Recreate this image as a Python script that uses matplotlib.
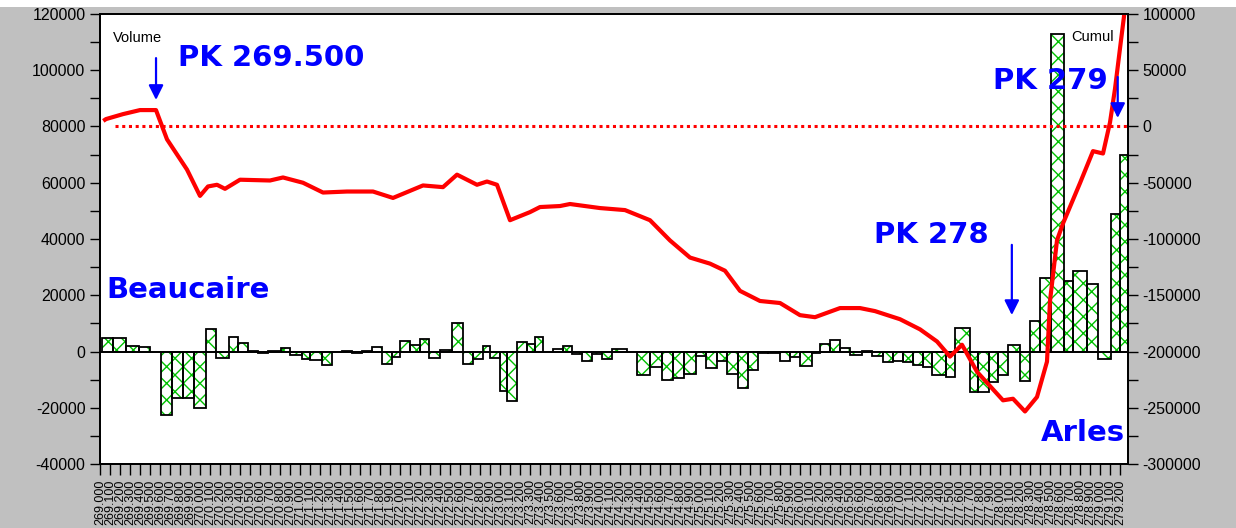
import numpy as np
import matplotlib.pyplot as plt
from matplotlib.patches import Rectangle
from matplotlib.ticker import MultipleLocator

# bar edges along the river (PK, km) and volume per section
pk_edges = [269.02, 269.13, 269.26, 269.39, 269.50, 269.61, 269.72, 269.83, 269.94, 270.06,
            270.16, 270.29, 270.38, 270.48, 270.58, 270.68, 270.81, 270.90, 271.02, 271.10,
            271.22, 271.32, 271.42, 271.52, 271.62, 271.72, 271.82, 271.92, 272.00, 272.10,
            272.20, 272.29, 272.40, 272.52, 272.63, 272.73, 272.83, 272.90, 273.00, 273.07,
            273.17, 273.27, 273.35, 273.43, 273.53, 273.63, 273.72, 273.82, 273.92, 274.02,
            274.12, 274.27, 274.37, 274.50, 274.62, 274.73, 274.84, 274.96, 275.06, 275.17,
            275.27, 275.38, 275.48, 275.58, 275.68, 275.80, 275.90, 276.00, 276.12, 276.20,
            276.30, 276.40, 276.50, 276.62, 276.72, 276.83, 276.93, 277.03, 277.13, 277.23,
            277.32, 277.46, 277.55, 277.70, 277.78, 277.89, 277.98, 278.08, 278.20, 278.30,
            278.40, 278.51, 278.64, 278.73, 278.87, 278.98, 279.11, 279.20, 279.28]
volume = [4800, 4800, 2000, 1500, -300, -22500, -16500, -16500, -20000, 8000,
          -2200, 5000, 3000, 300, -700, 200, 1200, -1200, -2700, -3000,
          -4700, -300, 100, -700, 300, 1600, -4300, -1800, 3800, 2200,
          4500, -2200, 600, 10000, -4300, -2700, 1800, -2200, -14000, -17500,
          3500, 2500, 5000, -300, 1000, 1800, -800, -3200, -1000, -2700,
          1000, -300, -8500, -5500, -10000, -9500, -8000, -1500, -6000, -3500,
          -8000, -13000, -6500, -600, -600, -3500, -2000, -5000, -500, 2800,
          4200, 1200, -1200, 100, -1500, -3800, -3200, -3800, -4800, -5500,
          -8500, -9200, 8500, -14500, -14500, -11000, -8500, 2200, -10500, 11000,
          26000, 113000, 25000, 28500, 24000, -2800, 49000, 70000]

# cumulated volume (right axis)
pk_cumul = [269.05, 269.06, 269.23, 269.40, 269.56, 269.67, 269.87, 270.00, 270.08, 270.17,
            270.25, 270.40, 270.70, 270.83, 271.03, 271.23, 271.47, 271.73, 271.93, 272.23,
            272.43, 272.57, 272.77, 272.87, 272.97, 273.10, 273.30, 273.40, 273.60, 273.70,
            274.00, 274.25, 274.50, 274.70, 274.90, 275.10, 275.25, 275.40, 275.60, 275.80,
            276.00, 276.15, 276.40, 276.60, 276.75, 277.00, 277.20, 277.37, 277.50, 277.62,
            277.77, 278.03, 278.13, 278.25, 278.37, 278.47, 278.50, 278.57, 278.63, 278.80,
            278.93, 279.03, 279.10, 279.15, 279.20, 279.24]
cumul = [6000, 6600, 11000, 14600, 14600, -11400, -38300, -61700, -53300, -51800,
         -55400, -47300, -48000, -45300, -50000, -58700, -57800, -57800, -63500, -52400,
         -53900, -42800, -51800, -48900, -51800, -83300, -76100, -71600, -70700, -68900,
         -72500, -74300, -83300, -101300, -116500, -121900, -128200, -146100, -155100, -156900,
         -167700, -169500, -161400, -161400, -164100, -171300, -180300, -191100, -204500, -194000,
         -218000, -243400, -242000, -253300, -240400, -209000, -155100, -101200, -86200, -50300,
         -21900, -24000, 3600, 33500, 69400, 97900]

pk_ticks = np.round(np.arange(269.0, 279.25, 0.1), 1)

plt.rcParams['hatch.linewidth'] = 1.0
plt.rcParams['axes.unicode_minus'] = False
grey = '#c0c0c0'
fig = plt.figure(figsize=(12.36, 5.28), dpi=100, facecolor=grey)
fig.patches.append(Rectangle((0, 1 - 7 / 528), 1, 7 / 528, transform=fig.transFigure,
                             facecolor='white', edgecolor='none'))
ax = fig.add_axes([100 / 1236, 1 - 464 / 528, 1028 / 1236, 450 / 528])
ax.set_facecolor('white')

left = np.array(pk_edges[:-1])
widths = np.diff(pk_edges)
ax.bar(left, volume, width=widths, align='edge', color='white', edgecolor='#00c000',
       hatch='xx', linewidth=0)
ax.bar(left, volume, width=widths, align='edge', fill=False, edgecolor='black', linewidth=1.3)
ax.axhline(0, color='black', lw=1.3)

ax.set_xlim(269.0, pk_edges[-1])
ax.set_ylim(-40000, 120000)
ax.yaxis.set_major_locator(MultipleLocator(20000))
ax.yaxis.set_minor_locator(MultipleLocator(10000))
ax.set_xticks(pk_ticks)
ax.set_xticklabels([f"{v:.3f}" for v in pk_ticks], rotation=90, fontsize=9,
                   family='Liberation Sans')
ax.tick_params(axis='x', length=8, width=1, pad=3)
ax.tick_params(axis='y', which='both', length=7, width=1, labelsize=11.5)
for lab in ax.get_yticklabels():
    lab.set_family('Liberation Sans')

ax2 = ax.twinx()
ax2.plot([pk_edges[1] + 0.02, pk_edges[-1]], [0, 0], color='#ff0000', lw=2.2,
         linestyle=(0, (1, 1.2)))
ax2.plot(pk_cumul, cumul, color='#ff0000', lw=3, solid_joinstyle='round')
ax2.set_ylim(-300000, 100000)
ax2.yaxis.set_major_locator(MultipleLocator(50000))
ax2.yaxis.set_minor_locator(MultipleLocator(25000))
ax2.tick_params(axis='y', which='both', length=7, width=1, labelsize=11.5)
for lab in ax2.get_yticklabels():
    lab.set_family('Liberation Sans')
for a in (ax, ax2):
    for s in a.spines.values():
        s.set_linewidth(1.3)

blue = '#0000ff'
tr = ax2.transAxes
big = dict(color=blue, fontsize=21, fontweight='bold', family='DejaVu Sans', transform=tr, va='center')
ax2.text(0.0759, 0.902, 'PK 269.500', ha='left', **big)
ax2.text(0.0058, 0.387, 'Beaucaire', ha='left', **big)
ax2.text(0.753, 0.509, 'PK 278', ha='left', **big)
ax2.text(0.869, 0.851, 'PK 279', ha='left', **big)
ax2.text(0.997, 0.069, 'Arles', ha='right', **big)
ax2.text(0.0126, 0.947, 'Volume', fontsize=10.5, family='Liberation Sans', transform=tr, va='center')
ax2.text(0.9446, 0.949, 'Cumul', fontsize=10.5, family='Liberation Sans', transform=tr, va='center')

arrow = dict(arrowstyle='-|>', color=blue, lw=1.6, mutation_scale=22, shrinkA=0, shrinkB=0)
ax2.annotate('', xy=(0.0545, 0.809), xytext=(0.0545, 0.902), xycoords=tr, textcoords=tr, arrowprops=arrow)
ax2.annotate('', xy=(0.887, 0.331), xytext=(0.887, 0.487), xycoords=tr, textcoords=tr, arrowprops=arrow)
ax2.annotate('', xy=(0.990, 0.769), xytext=(0.990, 0.860), xycoords=tr, textcoords=tr, arrowprops=arrow)

fig.savefig('out.png', dpi=100, facecolor=grey)
